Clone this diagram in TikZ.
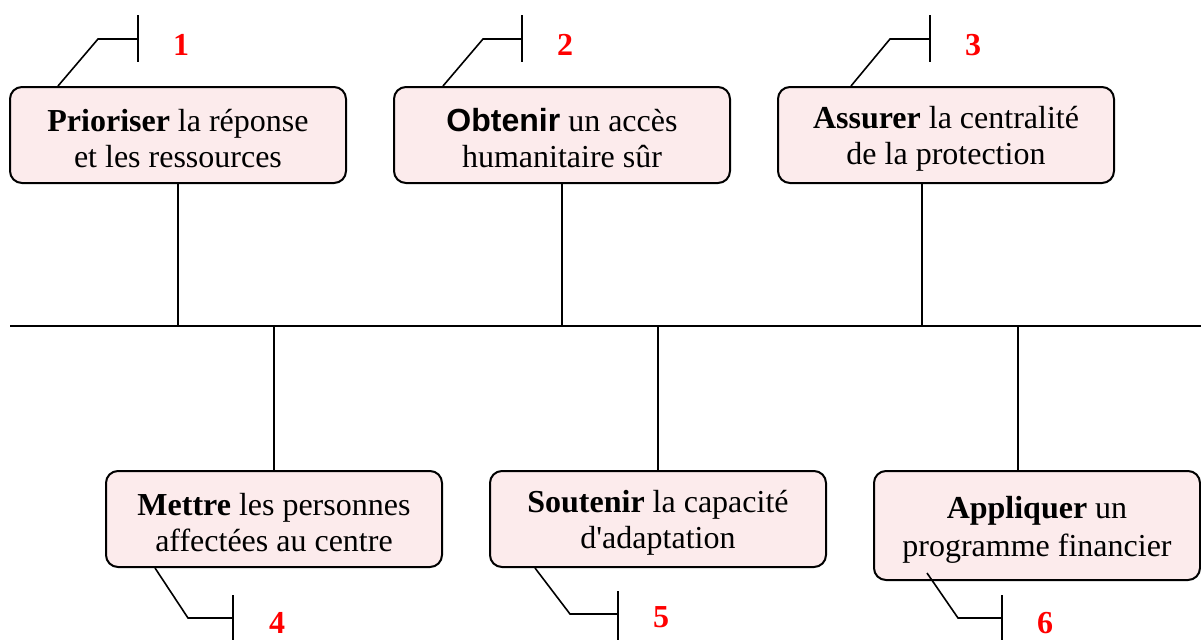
\documentclass[tikz,border=0pt]{standalone}
\usepackage{fontspec}
\setmainfont{Liberation Serif}
\newfontfamily\arialfont{Liberation Sans}
\usepackage{xcolor}
\usepackage{tikz}
\usetikzlibrary{positioning}
\definecolor{goalpink}{RGB}{252,235,236}
\definecolor{numred}{RGB}{255,0,0}
\newcommand{\goalstrut}[1][15pt]{\rule{0pt}{#1}}

\begin{document}
\begin{tikzpicture}[
    x=0.5pt, y=-0.5pt, % pixel grid, y pointing down
    node distance=192pt,
    goal/.style={rectangle,rounded corners=6pt,draw,line width=1pt,fill=goalpink,
        minimum width=168pt,minimum height=48pt,inner sep=0pt,align=center,
        font=\fontsize{16}{18}\selectfont},
    num/.style={text=numred,font=\fontsize{16}{19}\selectfont\bfseries},
    link/.style={line width=0.8pt}
]
    \useasboundingbox (0,0) rectangle (1201,639);

    % top row of goals
    \node[goal] (prio) at (178,135) {\goalstrut\textbf{Prioriser} la réponse\\et les ressources};
    \node[goal] (acces) [right of=prio] {\goalstrut{\arialfont\bfseries Obtenir} un accès\\humanitaire sûr};
    \node[goal] (prot) [right of=acces] {\goalstrut\textbf{Assurer} la centralité\\de la protection};

    % bottom row of goals
    \node[goal] (mettre) at (274,519) {\goalstrut\textbf{Mettre} les personnes\\affectées au centre};
    \node[goal] (adapt) [right of=mettre] {\goalstrut\textbf{Soutenir} la capacité\\d\textquotesingle adaptation};
    \node[goal,minimum width=163pt,minimum height=54.5pt,font=\fontsize{16}{19}\selectfont]
        (fin) at (1037,525.5) {\goalstrut[15pt]\textbf{Appliquer} un\\programme financier};

    % main axis and stems
    \coordinate (axisL) at (10,326);
    \coordinate (axisR) at (1201,326);
    \draw[link] (axisL) -- (axisR);
    \coordinate (stem3) at ([xshift=-12pt]prot.south);
    \coordinate (stem6) at ([xshift=-9.5pt]fin.north);
    \draw[link] (prio.south) -- (prio.south |- axisL);
    \draw[link] (acces.south) -- (acces.south |- axisL);
    \draw[link] (stem3) -- (stem3 |- axisL);
    \draw[link] (mettre.north |- axisL) -- (mettre.north);
    \draw[link] (adapt.north |- axisL) -- (adapt.north);
    \draw[link] (stem6 |- axisL) -- (stem6);

    % numbered callouts, top
    \coordinate (bar1) at (138,39);
    \coordinate (bar2) at (522,39);
    \coordinate (bar3) at (930,39);
    \draw[link] ([xshift=-60pt]prio.north) -- (98,39) -- (bar1);
    \draw[link] ([xshift=-59.5pt]acces.north) -- (483,39) -- (bar2);
    \draw[link] ([xshift=-47.5pt]prot.north) -- (890,39) -- (bar3);
    \draw[link] ([yshift=12pt]bar1) -- ([yshift=-11.5pt]bar1);
    \draw[link] ([yshift=12pt]bar2) -- ([yshift=-11.5pt]bar2);
    \draw[link] ([yshift=12pt]bar3) -- ([yshift=-11.5pt]bar3);
    \node[num] (n1) at (181,45) {1};
    \node[num] (n2) at (565,45) {2};
    \node[num] (n3) at (973,45) {3};

    % numbered callouts, bottom
    \coordinate (bar4) at (233,618);
    \coordinate (bar5) at (618,614);
    \coordinate (bar6) at (1002,618);
    \draw[link] ([xshift=-59.5pt]mettre.south) -- (188,618) -- (bar4);
    \draw[link] ([xshift=-61.5pt]adapt.south) -- (570,614) -- (bar5);
    \draw[link] ([xshift=-55pt,yshift=4pt]fin.south) -- (958,618) -- (bar6);
    \draw[link] ([yshift=11.5pt]bar4) -- ([yshift=-12pt]bar4);
    \draw[link] ([yshift=11.5pt]bar5) -- ([yshift=-14pt]bar5);
    \draw[link] ([yshift=11.5pt]bar6) -- ([yshift=-12pt]bar6);
    \node[num] (n4) at (277,623) {4};
    \node[num] (n5) at (661,617) {5};
    \node[num] (n6) at (1045,623) {6};
\end{tikzpicture}
\end{document}
